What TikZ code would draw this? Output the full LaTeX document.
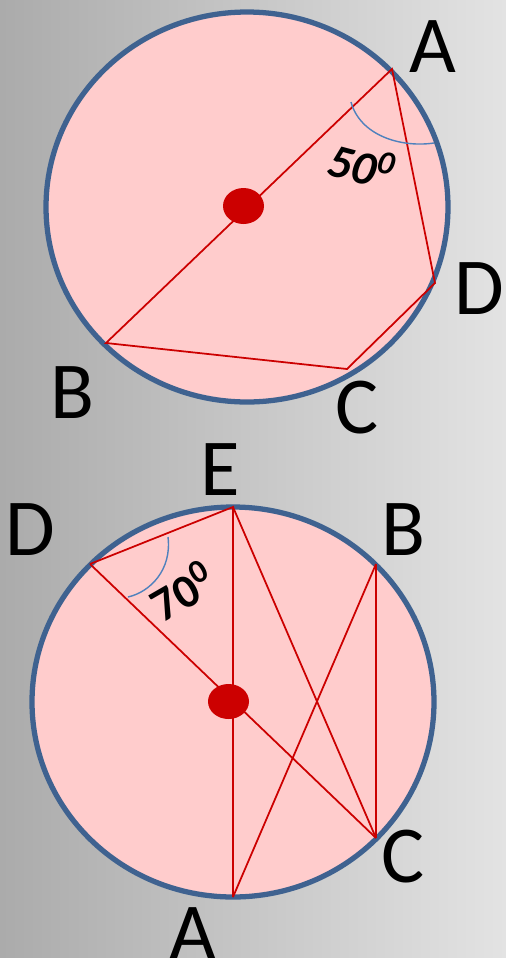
\documentclass[tikz,border=0pt]{standalone}
\usepackage{fontspec}
\setmainfont{Carlito}
\usepackage{xcolor}
\usepackage{tikz}
\definecolor{rosa}{HTML}{FFCCCC}
\definecolor{azulborda}{HTML}{3F6290}
\definecolor{vermelho}{HTML}{CC0000}
\definecolor{azularco}{HTML}{4F81BD}
\tikzset{
  circulo/.style={draw=azulborda, line width=3pt, fill=rosa},
  corda/.style={draw=vermelho, line width=1pt},
  ponto/.style={fill=vermelho},
  arco/.style={draw=azularco, line width=0.8pt},
  rotulo/.style={inner sep=0pt, font=\fontsize{46}{46}\selectfont},
  angulo/.style={inner sep=0pt, font=\bfseries\fontsize{27}{27}\selectfont},
}

\begin{document}
\begin{tikzpicture}[x=0.02cm, y=-0.02cm]
  \useasboundingbox (0,0) rectangle (506,958);
  \shade[left color=black!33, right color=black!11] (0,0) rectangle (506,958);
  % primeiro circulo
  \coordinate (O1) at (247,207);
  \coordinate (A1) at (392,69);
  \coordinate (B1) at (106,343);
  \coordinate (C1) at (347,369);
  \coordinate (D1) at (435,283);
  \draw[circulo] (O1) ellipse [x radius=201, y radius=195];
  \draw[corda] (A1) -- (B1) -- (C1) -- (D1) -- cycle;
  \fill[ponto] (243.5,206) ellipse [x radius=20.5, y radius=18];
  \draw[arco] (351,102) .. controls (360,135) and (400,148) .. (434,143);
  \node[angulo, rotate=-15] (ang1) at (362,165) {\itshape 50\textsuperscript{0}};
  \node[rotulo] (lA1) at (433,47) {A};
  \node[rotulo] (lB1) at (72,393) {B};
  \node[rotulo] (lC1) at (357,408) {C};
  \node[rotulo] (lD1) at (479,289) {D};
  % segundo circulo
  \coordinate (O2) at (233,702);
  \coordinate (A2) at (233,897);
  \coordinate (B2) at (376,564);
  \coordinate (C2) at (376,838);
  \coordinate (D2) at (90,564);
  \coordinate (E2) at (233,507);
  \draw[circulo] (O2) ellipse [x radius=201, y radius=195];
  \draw[corda] (D2) -- (E2) -- (A2);
  \draw[corda] (E2) -- (C2);
  \draw[corda] (D2) -- (C2);
  \draw[corda] (B2) -- (C2);
  \draw[corda] (B2) -- (A2);
  \fill[ponto] (228.5,701.5) ellipse [x radius=20.5, y radius=17.5];
  \draw[arco] (168,537) .. controls (172,570) and (150,592) .. (128,597);
  \node[angulo, rotate=30] (ang2) at (182,591) {70\textsuperscript{0}};
  \node[rotulo] (lA2) at (193,934) {A};
  \node[rotulo] (lB2) at (403,530) {B};
  \node[rotulo] (lC2) at (403,857) {C};
  \node[rotulo] (lD2) at (30,530) {D};
  \node[rotulo] (lE2) at (220,470) {E};
\end{tikzpicture}
\end{document}
